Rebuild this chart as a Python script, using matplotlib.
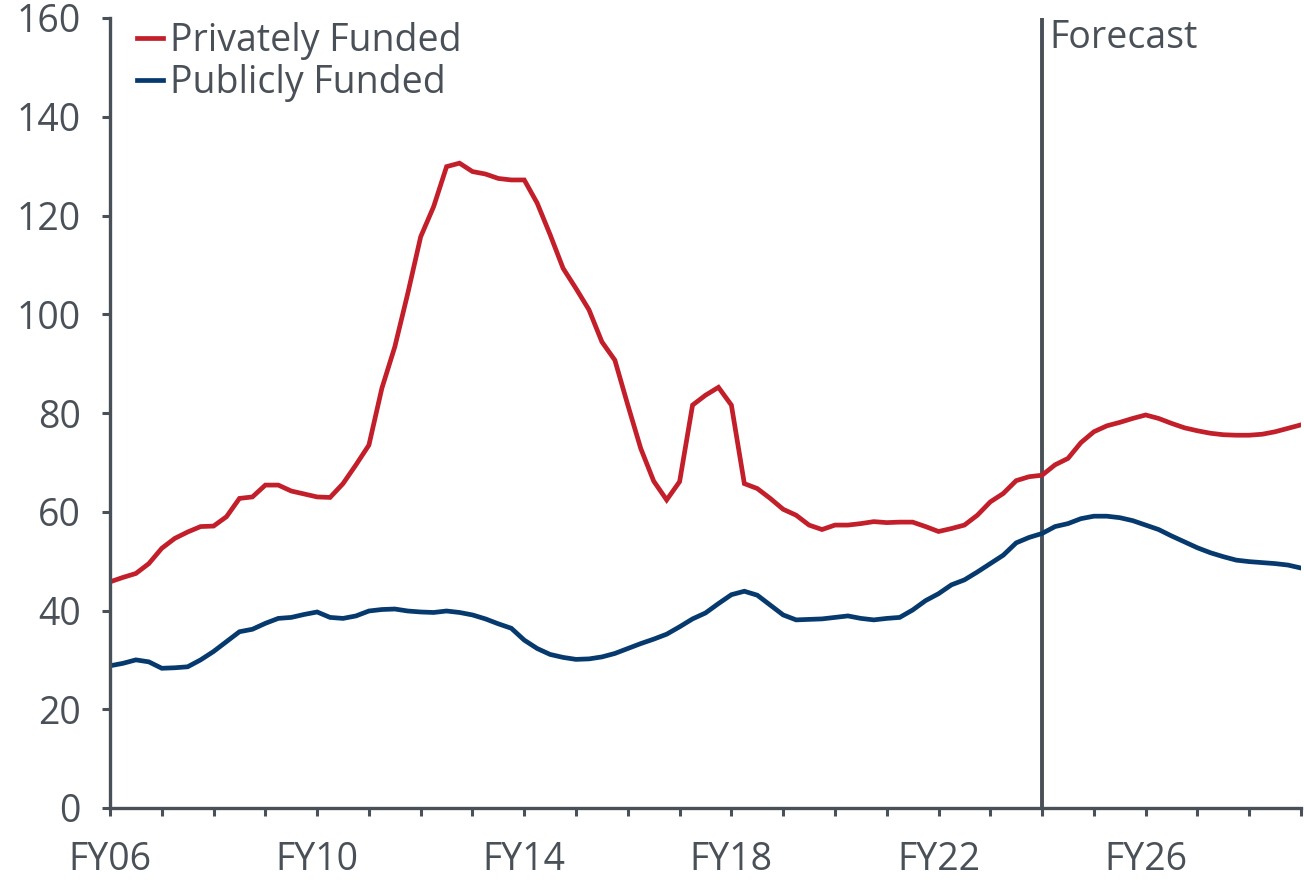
import matplotlib
matplotlib.use("Agg")
import matplotlib.pyplot as plt
import numpy as np

# quarterly series, FY06 Q1 .. FY29
start_year = 2006
forecast_year = 2024

privately_funded = [
    45.8, 46.7, 47.5, 49.5, 52.6, 54.6, 55.9, 57.0, 57.1, 59.0,
    62.7, 63.0, 65.4, 65.4, 64.2, 63.6, 63.0, 62.9, 65.7, 69.5,
    73.5, 85.0, 93.4, 104.2, 115.7, 121.8, 129.9, 130.6, 128.9, 128.4,
    127.5, 127.2, 127.2, 122.5, 116.1, 109.3, 105.2, 100.9, 94.4, 90.7,
    81.6, 72.8, 66.2, 62.4, 66.1, 81.6, 83.6, 85.2, 81.6, 65.7,
    64.7, 62.7, 60.5, 59.3, 57.3, 56.4, 57.3, 57.3, 57.6, 58.0,
    57.8, 57.9, 57.9, 57.0, 56.0, 56.6, 57.3, 59.3, 62.0, 63.7,
    66.3, 67.1, 67.4, 69.5, 70.8, 74.0, 76.2, 77.4, 78.1, 78.9,
    79.6, 78.9, 77.9, 77.0, 76.4, 75.9, 75.6, 75.5, 75.5, 75.7,
    76.2, 76.9, 77.6,
]

publicly_funded = [
    28.8, 29.3, 30.0, 29.6, 28.3, 28.4, 28.6, 30.0, 31.7, 33.7,
    35.7, 36.2, 37.4, 38.4, 38.6, 39.2, 39.7, 38.6, 38.4, 38.9,
    39.9, 40.2, 40.3, 39.9, 39.7, 39.6, 39.9, 39.6, 39.1, 38.3,
    37.3, 36.4, 34.0, 32.3, 31.1, 30.5, 30.1, 30.2, 30.6, 31.3,
    32.3, 33.3, 34.2, 35.2, 36.7, 38.3, 39.5, 41.4, 43.2, 43.9,
    43.1, 41.1, 39.1, 38.1, 38.2, 38.3, 38.6, 38.9, 38.4, 38.1,
    38.4, 38.6, 40.1, 42.0, 43.4, 45.2, 46.2, 47.8, 49.5, 51.2,
    53.7, 54.8, 55.6, 57.0, 57.6, 58.6, 59.1, 59.1, 58.8, 58.2,
    57.3, 56.4, 55.1, 53.9, 52.7, 51.7, 50.9, 50.2, 49.9, 49.7,
    49.5, 49.2, 48.6,
]

years = list(range(2006, 2030))
tick_labels = ["FY%02d" % (y % 100) if (y - 2006) % 4 == 0 else "" for y in years]
yticks = [0, 20, 40, 60, 80, 100, 120, 140, 160]

red = "#C21F2A"
blue = "#063A6E"
grey = "#4A5058"

plt.rcParams['font.family'] = ['Open Sans', 'DejaVu Sans']

fig = plt.figure(figsize=(13.04, 8.82), dpi=100)
ax = fig.add_axes([110/1304, 74/882, 1191/1304, 790/882])

x = start_year + np.arange(len(privately_funded)) / 4.0
ax.plot(x, privately_funded, color=red, lw=3.4, label="Privately Funded", solid_joinstyle="miter")
ax.plot(x, publicly_funded, color=blue, lw=3.4, label="Publicly Funded", solid_joinstyle="miter")

ax.axvline(forecast_year, color=grey, lw=2.8, zorder=1)
ax.text(forecast_year + 0.15, 153.9, "Forecast", color=grey, fontsize=27,
        ha="left", va="baseline")

ax.set_xlim(years[0], years[-1])
ax.set_ylim(0, 160)
ax.set_xticks(years)
ax.set_xticklabels(tick_labels)
ax.set_yticks(yticks)

for s in ["top", "right"]:
    ax.spines[s].set_visible(False)
for s in ["left", "bottom"]:
    ax.spines[s].set_color(grey)
    ax.spines[s].set_linewidth(2.4)

ax.tick_params(axis="both", colors=grey, labelcolor=grey, labelsize=27,
               length=6, width=2.2, direction="out")
ax.tick_params(axis="x", pad=18)
ax.tick_params(axis="y", pad=15)

leg = ax.legend(loc="upper left", bbox_to_anchor=(0.01, 1.0135), frameon=False,
                fontsize=27, handlelength=0.7, handletextpad=0.18,
                labelspacing=0.1, borderaxespad=0)
for t in leg.get_texts():
    t.set_color(grey)

fig.savefig("out.png", dpi=100, facecolor="white")
